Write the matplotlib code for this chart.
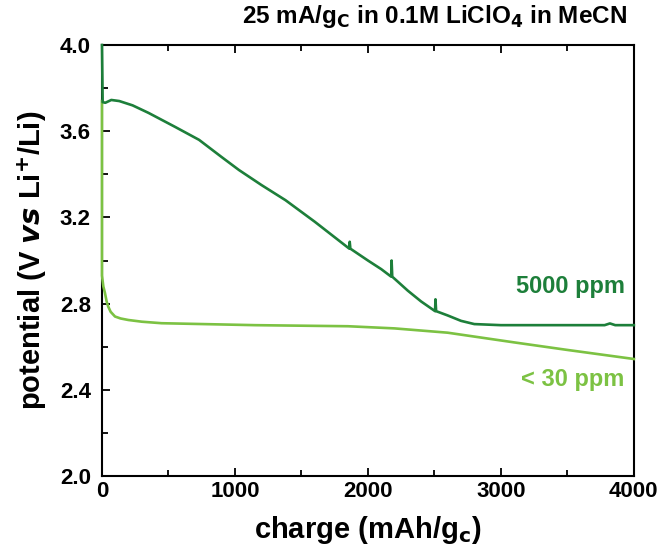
import matplotlib.pyplot as plt
from matplotlib.ticker import MultipleLocator

# 5000 ppm water
dark_x = [0, 5, 25, 70, 130, 230, 350, 550, 730, 900, 1030, 1200, 1380, 1600,
          1860, 1863, 1868, 2000, 2100, 2175, 2178, 2183, 2300, 2400, 2505,
          2508, 2513, 2600, 2700, 2800, 3000, 3500, 3780, 3820, 3860, 4000]
dark_y = [4.0, 3.735, 3.732, 3.745, 3.74, 3.72, 3.685, 3.62, 3.56, 3.48, 3.42,
          3.35, 3.28, 3.18, 3.055, 3.087, 3.055, 3.0, 2.96, 2.925, 3.00, 2.925,
          2.86, 2.81, 2.765, 2.82, 2.765, 2.745, 2.72, 2.705, 2.70, 2.70, 2.70,
          2.708, 2.70, 2.70]

# < 30 ppm water
light_x = [0, 0, 10, 22, 35, 47, 65, 98, 140, 198, 300, 449, 1150, 1850,
           2200, 2600, 3100, 3500, 4000]
light_y = [3.74, 2.93, 2.88, 2.85, 2.81, 2.786, 2.762, 2.74, 2.731, 2.724,
           2.716, 2.709, 2.70, 2.695, 2.685, 2.665, 2.62, 2.585, 2.543]

dark_green = "#1d7f3a"
light_green = "#7cc243"

plt.rcParams['font.family'] = ['Liberation Sans', 'DejaVu Sans']
plt.rcParams['font.weight'] = 'bold'
plt.rcParams['axes.labelweight'] = 'bold'
plt.rcParams['mathtext.default'] = 'bf'

fig = plt.figure(figsize=(6.64, 5.6), dpi=100)
ax = fig.add_axes([0.1536, 0.15, 0.801, 0.7696])

ax.plot(light_x, light_y, color=light_green, lw=1.9, zorder=3, clip_on=False)
ax.plot(dark_x, dark_y, color=dark_green, lw=1.9, zorder=3.1, clip_on=False)

ax.set_xlim(0, 4000)
ax.set_ylim(2.0, 4.0)
ax.xaxis.set_major_locator(MultipleLocator(1000))
ax.xaxis.set_minor_locator(MultipleLocator(500))
ax.yaxis.set_major_locator(MultipleLocator(0.4))
ax.yaxis.set_minor_locator(MultipleLocator(0.2))
ax.tick_params(which='both', direction='in', top=True, right=False,
               labelsize=16, width=1.3)
ax.tick_params(which='major', length=6)
ax.tick_params(which='minor', length=4)
ax.tick_params(axis='y', pad=8)
ax.yaxis.set_major_formatter(plt.FormatStrFormatter('%.1f'))
for s in ax.spines.values():
    s.set_linewidth(1.5)

ax.set_xlabel(r"charge (mAh/g$_{c}$)", fontsize=21, labelpad=9)
ax.set_ylabel(r"potential (V $\it{vs}$ Li$^{+}$/Li)", fontsize=21,
              labelpad=8)

ax.text(0.987, 1.035, r"25 mA/g$_{C}$ in 0.1M LiClO$_{4}$ in MeCN",
        transform=ax.transAxes, ha='right', va='bottom', fontsize=17.5)

ax.text(3930, 2.88, "5000 ppm", color=dark_green, ha='right', va='center',
        fontsize=17)
ax.text(3930, 2.45, "< 30 ppm", color=light_green, ha='right', va='center',
        fontsize=17)

fig.savefig("out.png", dpi=100)
